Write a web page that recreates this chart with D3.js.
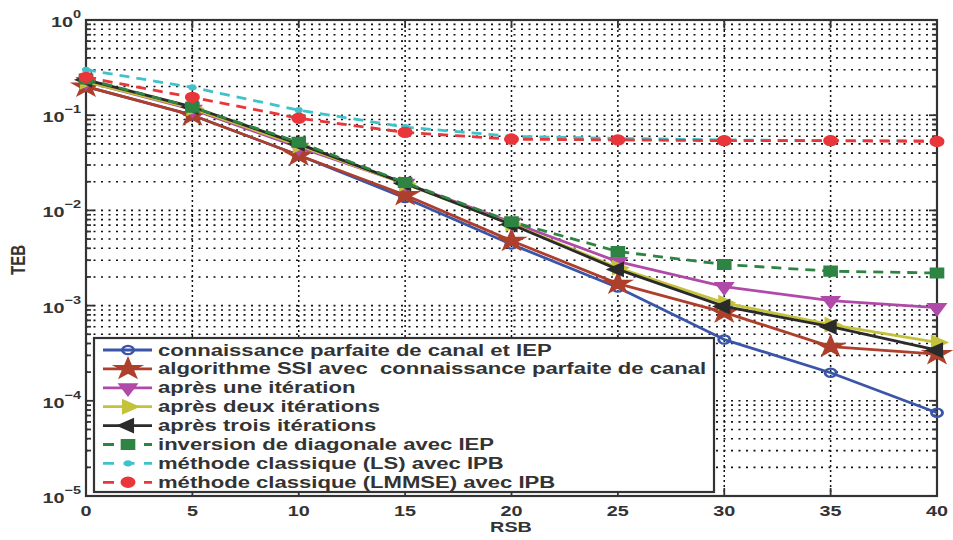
<!DOCTYPE html>
<html>
<head>
<meta charset="utf-8">
<script src="https://cdn.jsdelivr.net/npm/d3@7"></script>
<style>
  html, body { margin: 0; padding: 0; background: #fff; }
  svg { display: block; }
  text { font-family: "Liberation Sans", Arial, sans-serif; font-weight: bold; fill: #333; }
</style>
</head>
<body>
<svg id="chart" width="953" height="540"></svg>
<script>
// SNR axis (dB)
const rsb = [0, 5, 10, 15, 20, 25, 30, 35, 40];
const xTicks = [0, 5, 10, 15, 20, 25, 30, 35, 40];
const yDecades = [0, -1, -2, -3, -4, -5];

// Bit error rate for each receiver
const parfaite   = [0.2, 0.1, 0.038, 0.0135, 0.0044, 0.00155, 0.00044, 0.000197, 0.000075];
const ssi        = [0.2, 0.1, 0.038, 0.0145, 0.0048, 0.0017, 0.00085, 0.00037, 0.00031];
const iter1      = [0.225, 0.115, 0.046, 0.0192, 0.0075, 0.0029, 0.00158, 0.00113, 0.00095];
const iter2      = [0.225, 0.118, 0.048, 0.019, 0.0072, 0.0025, 0.00107, 0.00063, 0.00041];
const iter3      = [0.235, 0.122, 0.05, 0.0192, 0.0071, 0.0024, 0.00098, 0.0006, 0.00034];
const diagonale  = [0.24, 0.121, 0.052, 0.0196, 0.0076, 0.0037, 0.0027, 0.0023, 0.0022];
const ls         = [0.3, 0.196, 0.113, 0.075, 0.06, 0.057, 0.055, 0.054, 0.054];
const lmmse      = [0.25, 0.154, 0.093, 0.066, 0.056, 0.055, 0.054, 0.054, 0.053];

const seriesNames = [
  "connaissance parfaite de canal et IEP",
  "algorithme SSI avec\u00a0 connaissance parfaite de canal",
  "après une itération",
  "après deux itérations",
  "après trois itérations",
  "inversion de diagonale avec IEP",
  "méthode classique (LS) avec IPB",
  "méthode classique (LMMSE) avec IPB"
];

const series = [
  { name: seriesNames[0], values: parfaite,  color: "#3b55a8", dash: null, marker: "circleOpen" },
  { name: seriesNames[1], values: ssi,       color: "#ad3f2c", dash: null, marker: "star" },
  { name: seriesNames[2], values: iter1,     color: "#b04aa8", dash: null, marker: "triDown" },
  { name: seriesNames[3], values: iter2,     color: "#c3c23a", dash: null, marker: "triRight" },
  { name: seriesNames[4], values: iter3,     color: "#2b2b2b", dash: null, marker: "triLeft" },
  { name: seriesNames[5], values: diagonale, color: "#2e8442", dash: "10,7", marker: "square" },
  { name: seriesNames[6], values: ls,        color: "#3fc3ca", dash: "10,7", marker: "dot" },
  { name: seriesNames[7], values: lmmse,     color: "#e8363a", dash: "10,7", marker: "circle" }
];

const SX = 1.32;          // horizontal stretch applied to glyphs and markers
const SX_LEG = 1.38;      // legend entries are set a little wider
const L = 86, R = 937, T = 20, B = 496;

const svg = d3.select("#chart");
const x = d3.scaleLinear().domain([0, 40]).range([L, R]);
const y = d3.scaleLog().domain([1e-5, 1]).range([B, T]);

// dotted grid
const grid = svg.append("g");
const minorVals = [];
for (let e = -5; e < 0; e++) for (let m = 1; m <= 9; m++) minorVals.push(m * Math.pow(10, e));
minorVals.push(1);
grid.selectAll("line.h").data(minorVals.filter(v => v > 1e-5 && v < 1)).join("line")
  .attr("x1", L).attr("x2", R)
  .attr("y1", d => y(d)).attr("y2", d => y(d))
  .attr("stroke", "#111").attr("stroke-width", 1.6).attr("stroke-dasharray", "2,5.5");
grid.selectAll("line.v").data(xTicks.filter(d => d > 0 && d < 40)).join("line")
  .attr("x1", d => x(d)).attr("x2", d => x(d))
  .attr("y1", T).attr("y2", B)
  .attr("stroke", "#111").attr("stroke-width", 1.5).attr("stroke-dasharray", "2,3");

// axes with inward ticks on every side
const frame = svg.append("g");
const tickLines = [];
xTicks.forEach(d => {
  tickLines.push([x(d), B, x(d), B - 8]);
  tickLines.push([x(d), T, x(d), T + 8]);
});
minorVals.forEach(v => {
  const major = Math.abs(Math.log10(v) - Math.round(Math.log10(v))) < 1e-9;
  const len = major ? 8 : 5;
  tickLines.push([L, y(v), L + len, y(v)]);
  tickLines.push([R, y(v), R - len, y(v)]);
});
frame.selectAll("line").data(tickLines).join("line")
  .attr("x1", d => d[0]).attr("y1", d => d[1]).attr("x2", d => d[2]).attr("y2", d => d[3])
  .attr("stroke", "#333").attr("stroke-width", 1.8);
frame.append("rect").attr("x", L).attr("y", T).attr("width", R - L).attr("height", B - T)
  .attr("fill", "none").attr("stroke", "#333").attr("stroke-width", 2.2);

function stretchedText(g, tx, ty, anchor, size, sx = SX) {
  return g.append("text")
    .attr("transform", `translate(${tx},${ty}) scale(${sx},1)`)
    .attr("text-anchor", anchor)
    .attr("font-size", size);
}

// tick labels
const labels = svg.append("g");
xTicks.forEach(d => stretchedText(labels, x(d), 516, "middle", 15).text(d));
yDecades.forEach(e => {
  const t = stretchedText(labels, 81, y(Math.pow(10, e)) + 7, "end", 15);
  t.append("tspan").text("10");
  t.append("tspan").attr("font-size", 11).attr("dy", -9).text(e === 0 ? "0" : "\u2212" + Math.abs(e));
});
stretchedText(labels, 511, 532, "middle", 15).text("RSB");
labels.append("text")
  .attr("transform", `translate(25,260) scale(${SX},1) rotate(-90)`)
  .attr("text-anchor", "middle").attr("font-size", 15).text("TEB");

// marker shapes
function markerPath(kind) {
  switch (kind) {
    case "circleOpen": return { d: d3.symbol(d3.symbolCircle, 55)(), rot: 0, fill: false, sw: 2.2 };
    case "circle":     return { d: d3.symbol(d3.symbolCircle, 75)(), rot: 0, fill: true, sw: 1.6 };
    case "star":       return { d: d3.symbol(d3.symbolStar, 120)(), rot: 0, fill: true, sw: 1.6 };
    case "triDown":    return { d: d3.symbol(d3.symbolTriangle, 75)(), rot: 180, fill: true, sw: 1.6 };
    case "triRight":   return { d: d3.symbol(d3.symbolTriangle, 75)(), rot: 90, fill: true, sw: 1.6 };
    case "triLeft":    return { d: d3.symbol(d3.symbolTriangle, 75)(), rot: -90, fill: true, sw: 1.6 };
    case "square":     return { d: d3.symbol(d3.symbolSquare, 90)(), rot: 0, fill: true, sw: 1.6 };
    case "dot":        return { d: d3.symbol(d3.symbolCircle, 16)(), rot: 0, fill: true, sw: 1.6 };
  }
}
function drawMarker(g, kind, color, cx, cy) {
  const m = markerPath(kind);
  g.append("path").attr("d", m.d)
    .attr("transform", `translate(${cx},${cy}) scale(${SX},1) rotate(${m.rot})`)
    .attr("fill", m.fill ? color : "none")
    .attr("stroke", color).attr("stroke-width", m.sw);
}

// curves
const line = d3.line().x((d, i) => x(rsb[i])).y(d => y(d));
const plot = svg.append("g");
series.forEach(s => {
  const g = plot.append("g");
  g.append("path").attr("d", line(s.values))
    .attr("fill", "none").attr("stroke", s.color).attr("stroke-width", 2.8)
    .attr("stroke-dasharray", s.dash).attr("stroke-linejoin", "round");
  s.values.forEach((v, i) => drawMarker(g, s.marker, s.color, x(rsb[i]), y(v)));
});

// legend
const leg = svg.append("g");
leg.append("rect").attr("x", 94).attr("y", 338).attr("width", 620).attr("height", 154)
  .attr("fill", "#fff").attr("stroke", "#333").attr("stroke-width", 2.2);
series.forEach((s, i) => {
  const cy = 350 + i * 18.9;
  leg.append("line").attr("x1", 103).attr("x2", 152).attr("y1", cy).attr("y2", cy)
    .attr("stroke", s.color).attr("stroke-width", 2.8)
    .attr("stroke-dasharray", s.dash ? "11,9.5" : null);
  drawMarker(leg, s.marker, s.color, 128, cy);
  stretchedText(leg, 158, cy + 5.5, "start", 16, SX_LEG).text(s.name);
});
</script>
</body>
</html>
